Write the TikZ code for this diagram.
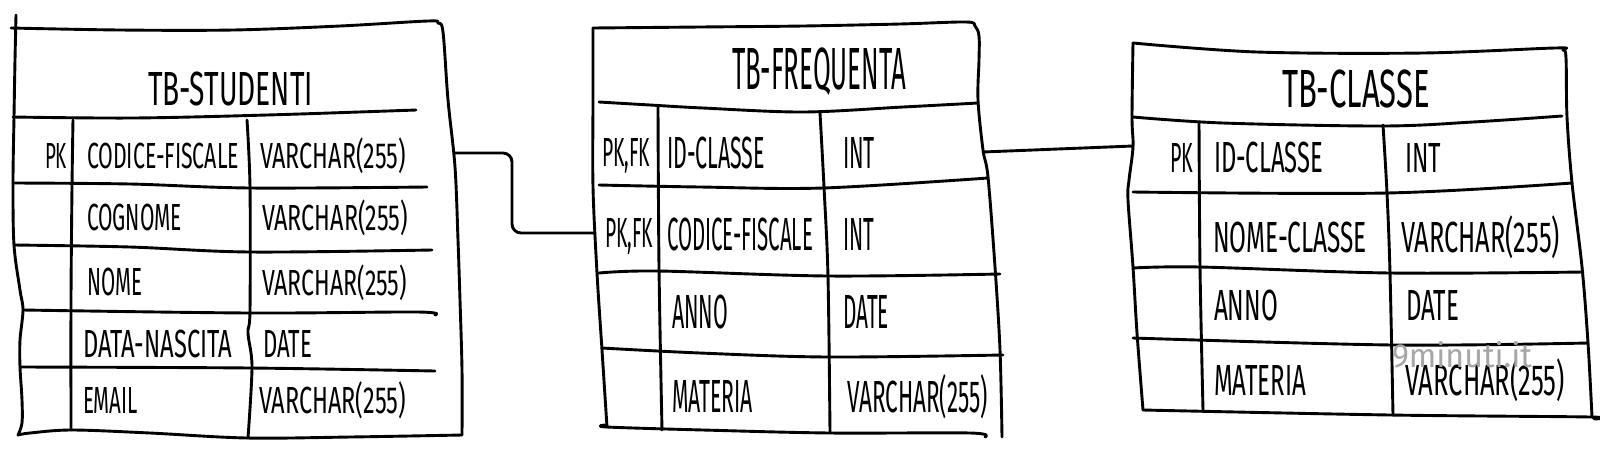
\documentclass[tikz,border=0pt]{standalone}
\usepackage{fontspec}
\usepackage{graphicx}
\newfontfamily\hand{Fira Sans}
\newcommand\hw[3]{\resizebox{#1pt}{#2pt}{\raisebox{0pt}[\fontcharht\font`H][0pt]{#3}}}
\begin{document}
\begin{tikzpicture}[x=1pt,y=-1pt,
  pen/.style={line width=2.9pt, line cap=round, line join=round, black},
  txt/.style={anchor=base west, inner sep=0pt, outer sep=0pt, font=\hand, black},
  wm/.style={anchor=base west, inner sep=0pt, outer sep=0pt, font=\hand, black!35}]
\useasboundingbox[fill=white] (0,0) rectangle (1600,451);

% ---------------- TB-STUDENTI ----------------
\draw[pen] plot[smooth, tension=0.55] coordinates {(11,28) (120,30) (233,30) (340,26) (428,21) (438,23) (443,32) (448,100) (455,167) (458,240) (460,300) (462,370) (462,435)};
\draw[pen] plot[smooth, tension=0.55] coordinates {(462,435) (350,437) (247,438) (150,433) (72,430) (30,433) (18,435)};
\draw[pen] plot[smooth, tension=0.55] coordinates {(16,15) (15,60) (14,117) (13,183) (14,245) (20,290) (23,310) (20,340) (20,367) (22,400) (22,423) (18,435)};
\draw[pen] plot[smooth, tension=0.55] coordinates {(13,117) (133,118) (267,115) (416,110)};
\draw[pen] plot[smooth, tension=0.55] coordinates {(73,120) (72,187) (71,300) (71,430)};
\draw[pen] plot[smooth, tension=0.55] coordinates {(247,120) (250,187) (250,310) (248,333) (252,367) (248,438)};
\draw[pen] plot[smooth, tension=0.55] coordinates {(13,183) (130,184) (250,188) (427,187)};
\draw[pen] plot[smooth, tension=0.55] coordinates {(14,245) (130,247) (250,252) (432,250)};
\draw[pen] plot[smooth, tension=0.55] coordinates {(23,310) (250,313) (417,312) (435,315)};
\draw[pen] plot[smooth, tension=0.55] coordinates {(20,367) (250,368) (435,371)};

\node[txt] (stitle) at (148,105) {\hw{165}{33}{TB-STUDENTI}};
\node[txt] (spk) at (45,168) {\hw{22}{25}{PK}};
\node[txt] (s1n) at (87,168) {\hw{152}{25}{CODICE-FISCALE}};
\node[txt] (s1t) at (260,168) {\hw{146}{25}{VARCHAR(255)}};
\node[txt] (s2n) at (87,230) {\hw{95}{26}{COGNOME}};
\node[txt] (s2t) at (262,230) {\hw{146}{25}{VARCHAR(255)}};
\node[txt] (s3n) at (87,295) {\hw{55}{27}{NOME}};
\node[txt] (s3t) at (262,295) {\hw{145}{25}{VARCHAR(255)}};
\node[txt] (s4n) at (83,357) {\hw{149}{27}{DATA-NASCITA}};
\node[txt] (s4t) at (263,357) {\hw{49}{27}{DATE}};
\node[txt] (s5n) at (83,413) {\hw{55}{26}{EMAIL}};
\node[txt] (s5t) at (259,413) {\hw{147}{26}{VARCHAR(255)}};

% ---------------- TB-FREQUENTA ----------------
\draw[pen] plot[smooth, tension=0.55] coordinates {(593,28) (700,27) (803,26) (900,24) (966,22) (975,26) (979,36) (979,60) (978,100) (983,150) (988,177) (995,267) (1000,350) (1002,437)};
\draw[pen] plot[smooth, tension=0.55] coordinates {(593,28) (593,100) (593,187) (597,273) (602,350) (607,427)};
\draw[pen] plot[smooth, tension=0.55] coordinates {(605,425) (607,427) (703,430) (830,433) (970,433) (985,437)};
\draw[pen] plot[smooth, tension=0.55] coordinates {(599,102) (650,105) (703,108) (803,112) (903,107) (978,103)};
\draw[pen] plot[smooth, tension=0.55] coordinates {(658,107) (659,267) (662,430)};
\draw[pen] plot[smooth, tension=0.55] coordinates {(820,113) (824,187) (828,277) (830,433)};
\draw[pen] plot[smooth, tension=0.55] coordinates {(599,185) (700,187) (823,188) (988,178)};
\draw[pen] plot[smooth, tension=0.55] coordinates {(599,273) (658,271) (828,276) (1000,274)};
\draw[pen] plot[smooth, tension=0.55] coordinates {(602,348) (700,353) (828,357) (1003,355)};

\node[txt] (ftitle) at (732,89) {\hw{174}{41}{TB-FREQUENTA}};
\node[txt] (f1k) at (602,166) {\hw{48}{28}{PK,FK}};
\node[txt] (f1n) at (667,168) {\hw{98}{31}{ID-CLASSE}};
\node[txt] (f1t) at (843,168) {\hw{32}{31}{INT}};
\node[txt] (f2k) at (605,247) {\hw{48}{29}{PK,FK}};
\node[txt] (f2n) at (667,250) {\hw{146}{32}{CODICE-FISCALE}};
\node[txt] (f2t) at (843,250) {\hw{31}{32}{INT}};
\node[txt] (f3n) at (672,328) {\hw{56}{33}{ANNO}};
\node[txt] (f3t) at (843,328) {\hw{46}{33}{DATE}};
\node[txt] (f4n) at (672,412) {\hw{81}{32}{MATERIA}};
\node[txt] (f4t) at (847,412) {\hw{141}{31}{VARCHAR(255)}};

% ---------------- TB-CLASSE ----------------
\draw[pen] plot[smooth, tension=0.55] coordinates {(1133,43) (1257,52) (1423,53) (1555,48) (1563,50) (1566,58) (1567,117) (1572,183) (1582,267) (1588,343) (1592,417)};
\draw[pen] plot[smooth, tension=0.55] coordinates {(1133,43) (1132,117) (1133,147) (1129,180) (1128,200) (1133,267) (1137,333) (1143,410)};
\draw[pen] plot[smooth, tension=0.55] coordinates {(1143,410) (1390,415) (1590,417) (1594,419)};
\draw[pen] plot[smooth, tension=0.55] coordinates {(1133,117) (1223,123) (1383,126) (1473,122) (1562,116)};
\draw[pen] plot[smooth, tension=0.55] coordinates {(1199,122) (1200,267) (1203,410)};
\draw[pen] plot[smooth, tension=0.55] coordinates {(1383,125) (1387,193) (1390,273) (1393,415)};
\draw[pen] plot[smooth, tension=0.55] coordinates {(1133,192) (1387,193) (1572,183)};
\draw[pen] plot[smooth, tension=0.55] coordinates {(1133,268) (1200,267) (1390,273) (1583,272)};
\draw[pen] plot[smooth, tension=0.55] coordinates {(1133,338) (1393,345) (1588,343)};

\node[txt] (ctitle) at (1282,107) {\hw{148}{37}{TB-CLASSE}};
\node[txt] (cpk) at (1170,172) {\hw{23}{29}{PK}};
\node[txt] (c1n) at (1214,172) {\hw{109}{30}{ID-CLASSE}};
\node[txt] (c1t) at (1405,172) {\hw{36}{29}{INT}};
\node[txt] (c2n) at (1213,252) {\hw{154}{30}{NOME-CLASSE}};
\node[txt] (c2t) at (1401,252) {\hw{159}{30}{VARCHAR(255)}};
\node[txt] (c3n) at (1214,320) {\hw{64}{30}{ANNO}};
\node[txt] (c3t) at (1406,320) {\hw{53}{30}{DATE}};
\node[txt] (c4n) at (1214,395) {\hw{92}{30}{MATERIA}};
\node[txt] (c4t) at (1405,395) {\hw{160}{30}{VARCHAR(255)}};
\node[wm] (wmark) at (1392,367) {\hw{140}{23}{9minuti.it}};

% ---------------- connectors ----------------
\coordinate (stuR) at (455,153);
\coordinate (freL) at (594,233);
\coordinate (freR) at (983,152);
\coordinate (claL) at (1133,146);
\draw[pen, rounded corners=9pt] (stuR) -| (512,233) -- (freL);
\draw[pen] (freR) -- (claL);
\end{tikzpicture}
\end{document}
